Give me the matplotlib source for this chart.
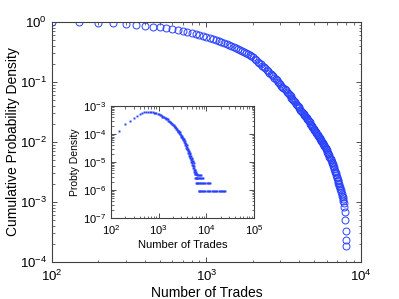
import numpy as np
import matplotlib
matplotlib.use("Agg")
import matplotlib.pyplot as plt

# cumulative distribution (main panel)
cdf_x = [100, 150, 200, 250, 300, 350, 400, 450, 500, 550, 600, 650, 700, 750, 800, 850, 900, 950,
         1000, 1050, 1100, 1150, 1200, 1250, 1300, 1350, 1400, 1450, 1500, 1550, 1600, 1650, 1700,
         1750, 1800, 1850, 1900, 1950, 2000, 2050, 2100, 2150, 2200, 2250, 2300, 2350, 2400, 2450,
         2500, 2550, 2600, 2650, 2700, 2750, 2800, 2850, 2900, 2950, 3000, 3050, 3100, 3150, 3200,
         3250, 3300, 3350, 3400, 3450, 3500, 3550, 3600, 3650, 3700, 3750, 3800, 3850, 3900, 3950,
         4000, 4050, 4100, 4150, 4200, 4250, 4300, 4350, 4400, 4450, 4500, 4550, 4600, 4650, 4700,
         4750, 4800, 4850, 4900, 4950, 5000, 5050, 5100, 5150, 5200, 5250, 5300, 5350, 5400, 5450,
         5500, 5550, 5600, 5650, 5700, 5750, 5800, 5850, 5900, 5950, 6000, 6050, 6100, 6150, 6200,
         6250, 6300, 6350, 6400, 6450, 6500, 6550, 6600, 6650, 6700, 6750, 6800, 6850, 6900, 6950,
         7000, 7050, 7100, 7150, 7200, 7250, 7300, 7350, 7400, 7450, 7500, 7550, 7600, 7650, 7700,
         7750, 7800, 7850, 7900, 7950, 8000, 8050]
cdf_y = [1.0, 0.9908, 0.9727, 0.9462, 0.9162, 0.8913, 0.8670, 0.8395, 0.8128, 0.7852, 0.7586,
         0.7311, 0.7047, 0.6783, 0.6531, 0.6310, 0.6095, 0.5855, 0.5623, 0.5401, 0.5188, 0.4983,
         0.4786, 0.4624, 0.4467, 0.4315, 0.4169, 0.4027, 0.3890, 0.3733, 0.3581, 0.3436, 0.3296,
         0.3162, 0.3034, 0.2911, 0.2793, 0.2679, 0.2570, 0.2438, 0.2312, 0.2193, 0.2080, 0.1972,
         0.1871, 0.1774, 0.1683, 0.1596, 0.1514, 0.1439, 0.1368, 0.1300, 0.1236, 0.1175, 0.1117,
         0.1062, 0.1009, 0.0959, 0.0912, 0.0871, 0.0832, 0.0794, 0.0759, 0.0724, 0.0692, 0.0661,
         0.0631, 0.0603, 0.0575, 0.0550, 0.0525, 0.0501, 0.0479, 0.0457, 0.0437, 0.0417, 0.0398,
         0.0380, 0.0363, 0.0348, 0.0334, 0.0321, 0.0308, 0.0295, 0.0283, 0.0272, 0.0261, 0.0250,
         0.0240, 0.0230, 0.0221, 0.0212, 0.0203, 0.0195, 0.0187, 0.0179, 0.0172, 0.0165, 0.0158,
         0.0152, 0.0147, 0.0141, 0.0136, 0.0130, 0.0125, 0.0121, 0.0116, 0.0111, 0.0107, 0.0103,
         0.00991, 0.00953, 0.00916, 0.00881, 0.00847, 0.00815, 0.00783, 0.00753, 0.00724, 0.00690,
         0.00658, 0.00627, 0.00597, 0.00569, 0.00542, 0.00516, 0.00492, 0.00469, 0.00447, 0.00422,
         0.00398, 0.00376, 0.00355, 0.00335, 0.00316, 0.00299, 0.00282, 0.00266, 0.00251, 0.00237,
         0.00223, 0.00210, 0.00198, 0.00186, 0.00175, 0.00165, 0.00156, 0.00147, 0.00138, 0.00128,
         0.00119, 0.00111, 0.00103, 0.000955, 0.000813, 0.000692, 0.000501, 0.000331, 0.000234,
         0.000186]

# probability density (inset), values in units of 1e-6
pdf_x = [100, 150, 200, 250, 300, 350, 400, 450, 500, 550, 600, 650, 700, 750, 800, 850, 900, 950,
         1000, 1050, 1100, 1150, 1200, 1250, 1300, 1350, 1400, 1450, 1500, 1550, 1600, 1650, 1700,
         1750, 1800, 1850, 1900, 1950, 2000, 2050, 2100, 2150, 2200, 2250, 2300, 2350, 2400, 2450,
         2500, 2550, 2600, 2650, 2700, 2750, 2800, 2850, 2900, 2950, 3000, 3050, 3100, 3150, 3200,
         3250, 3300, 3350, 3400, 3450, 3500, 3550, 3600, 3650, 3700, 3750, 3800, 3850, 3900, 3950,
         4000, 4050, 4100, 4150, 4200, 4250, 4300, 4350, 4400, 4450, 4500, 4550, 4600, 4650, 4700,
         4750, 4800, 4850, 4900, 4950, 5000, 5050, 5100, 5150, 5200, 5250, 5300, 5350, 5400, 5450,
         5500, 5550, 5600, 5650, 5700, 5750, 5800, 5850, 5900, 5950, 6000, 6050, 6100, 6150, 6200,
         6250, 6300, 6350, 6400]
pdf_y = [64.6, 132, 229, 299, 380, 447, 513, 556, 596, 624, 631, 631, 620, 612, 584, 575, 545, 530,
         497, 488, 462, 452, 421, 416, 393, 385, 358, 356, 333, 330, 303, 300, 276, 273, 250, 251,
         228, 229, 207, 208, 190, 183, 172, 174, 155, 158, 142, 146, 129, 133, 116, 124, 109, 114,
         99, 104, 88, 95, 80, 88, 72, 80, 66, 73, 59, 66, 52, 60, 46, 54, 41, 49, 37, 44, 32, 39,
         30, 35, 29.4, 26.7, 24.9, 29.4, 21.4, 24.0, 18.7, 22.3, 16.0, 21.4, 15.1, 19.6, 13.4, 16.9,
         11.6, 16.0, 12.5, 9.8, 14.2, 10.7, 8.0, 12.5, 8.9, 10.7, 7.1, 9.8, 8.0, 6.2, 8.9, 5.3, 7.1,
         4.5, 6.2, 3.6, 5.3, 4.5, 2.7, 5.3, 3.6, 4.5, 2.7, 3.6, 1.8, 2.7, 3.6, 1.8, 2.7, 1.8, 3.6]
tail_x = [6500, 6800, 7100, 7500, 7900,
          6450, 6700, 7000, 7300, 7700, 8100, 8400,
          6550, 6900, 7200, 7600, 8000, 8500, 9000, 9500, 10100, 10700, 11300, 11900,
          6850, 7150, 7450, 7800, 8200, 8600, 9100, 9600, 10200, 10800, 11500, 12200, 12900,
          13700, 14500, 15300, 16200, 17100, 18100, 19100, 20200, 21300, 22500, 23700, 25000]
tail_y = [3.56] * 5 + [2.67] * 7 + [1.78] * 12 + [0.89] * 25

plt.rcParams['font.family'] = ['Liberation Sans', 'DejaVu Sans']
blue = '#2840ff'

fig = plt.figure(figsize=(3.99, 2.99), dpi=100)
ax = fig.add_axes([0.1303, 0.1237, 0.7744, 0.8027])
ax.plot(cdf_x, cdf_y, 'o', mfc='none', mec=blue, ms=5, mew=0.7)
ax.set_xscale('log')
ax.set_yscale('log')
ax.set_xlim(1e2, 1e4)
ax.set_ylim(1e-4, 1e0)
ax.set_xlabel('Number of Trades', fontsize=10, labelpad=1)
ax.set_ylabel('Cumulative Probability Density', fontsize=10, labelpad=0)

ins = fig.add_axes([0.2782, 0.2709, 0.3584, 0.3746])
ins.plot(pdf_x, np.array(pdf_y) * 1e-6, 's', color=blue, ms=1.4, mew=0)
ins.plot(tail_x, np.array(tail_y) * 1e-6, 's', color=blue, ms=1.4, mew=0)
ins.set_xscale('log')
ins.set_yscale('log')
ins.set_xlim(1e2, 1e5)
ins.set_ylim(1e-7, 1e-3)
ins.set_xlabel('Number of Trades', fontsize=8, labelpad=2.5)
ins.set_ylabel('Probty Density', fontsize=7.5, labelpad=2)

for a, fs, xp in ((ax, 9.5, 5), (ins, 8, 3.5)):
    a.tick_params(which='both', direction='in', top=True, right=True,
                  labelsize=fs, colors='#333333', labelcolor='black')
    a.tick_params(which='major', length=3.5, width=0.6)
    a.tick_params(which='minor', length=1.8, width=0.5)
    a.tick_params(axis='x', pad=xp)
    for s in a.spines.values():
        s.set_color('#404040')
        s.set_linewidth(0.8)

fig.savefig('out.png', dpi=100)
